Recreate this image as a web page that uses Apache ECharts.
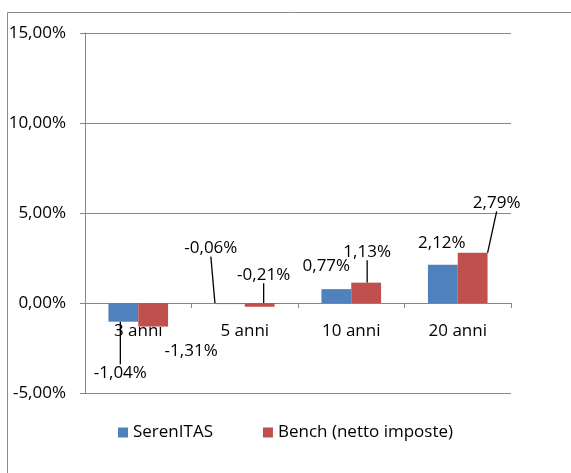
<!DOCTYPE html>
<html>
<head>
<meta charset="utf-8">
<script src="https://cdn.jsdelivr.net/npm/echarts@6/dist/echarts.min.js"></script>
<style>
  html, body { margin: 0; padding: 0; background: #fff; }
  #main { width: 571px; height: 473px; }
</style>
</head>
<body>
<div id="main"></div>
<script>
// dati del grafico
const categories = ['3 anni', '5 anni', '10 anni', '20 anni'];
const serenitas = [-1.04, -0.06, 0.77, 2.12];
const bench = [-1.31, -0.21, 1.13, 2.79];
const yTicks = { min: -5, max: 15, step: 5 };

// spostamento etichette (px, rispetto all'estremità della barra) e linee guida
const shiftSerenitas = [[-3, 51], [-19, -56], [-10, -23], [-1, -22]];
const shiftBench = [[38, 25], [4, -32], [1, -31], [24, -50]];
const lineSerenitas = [true, true, false, false];
const lineBench = [false, true, true, true];

const FONT = '"Open Sans", "Noto Sans", sans-serif';
const FS = 17;
const fmt = v => v.toFixed(2).replace('.', ',') + '%';

const toItems = (vals, lines) => vals.map((v, i) => ({
  value: v,
  labelLine: { show: lines[i] }
}));

var chartDom = document.getElementById('main');
var myChart = echarts.init(chartDom);

const allVals = [serenitas, bench];
const allShift = [shiftSerenitas, shiftBench];

var option = {
  animation: false,
  textStyle: { fontFamily: FONT },
  graphic: [{
    type: 'rect',
    left: 5, top: 10,
    shape: { width: 700, height: 600 },
    style: { fill: 'none', stroke: '#8c8c8c', lineWidth: 1 },
    silent: true
  }],
  grid: { left: 85, right: 60, top: 33, bottom: 80 },
  legend: {
    top: 419,
    left: 'center',
    itemWidth: 10,
    itemHeight: 10,
    itemGap: 50,
    icon: 'rect',
    textStyle: { fontFamily: FONT, fontSize: FS, color: '#000' },
    data: ['SerenITAS', 'Bench (netto imposte)']
  },
  xAxis: {
    type: 'category',
    data: categories,
    axisLine: { onZero: false, lineStyle: { color: '#868686' } },
    axisTick: { show: true, length: 5, lineStyle: { color: '#868686' } },
    axisLabel: { color: '#000', fontSize: FS, fontFamily: FONT, margin: 20 }
  },
  yAxis: {
    type: 'value',
    min: yTicks.min,
    max: yTicks.max,
    interval: yTicks.step,
    axisLine: { show: true, lineStyle: { color: '#868686' } },
    axisTick: { show: true, length: 5, lineStyle: { color: '#868686' } },
    splitLine: { lineStyle: { color: '#868686' } },
    axisLabel: { color: '#000', fontSize: FS, fontFamily: FONT, margin: 19, formatter: fmt }
  },
  series: [
    {
      name: 'SerenITAS',
      type: 'bar',
      data: toItems(serenitas, lineSerenitas),
      itemStyle: { color: '#4F81BD' },
      barGap: '0%',
      barCategoryGap: '44%'
    },
    {
      name: 'Bench (netto imposte)',
      type: 'bar',
      data: toItems(bench, lineBench),
      itemStyle: { color: '#C0504D' },
      barGap: '0%',
      barCategoryGap: '44%'
    }
  ].map(s => Object.assign(s, {
    label: {
      show: true,
      position: 'inside',
      color: '#000',
      fontSize: FS,
      fontFamily: FONT,
      formatter: p => fmt(p.value)
    },
    labelLine: { lineStyle: { color: '#000', width: 1.3 } },
    labelLayout: function (p) {
      const v = allVals[p.seriesIndex][p.dataIndex];
      const sh = allShift[p.seriesIndex][p.dataIndex];
      const r = p.rect;
      const ax = r.x + r.width / 2;
      const ay = v >= 0 ? r.y : r.y + r.height;
      return {
        x: ax + sh[0],
        y: ay + sh[1],
        align: 'center',
        verticalAlign: 'middle'
      };
    }
  }))
};

option && myChart.setOption(option);

// l'asse delle categorie va portato sulla linea dello zero
const zeroY = myChart.convertToPixel({ yAxisIndex: 0 }, 0);
const baseY = myChart.convertToPixel({ yAxisIndex: 0 }, yTicks.min);
myChart.setOption({ xAxis: { offset: zeroY - baseY } });
</script>
</body>
</html>
